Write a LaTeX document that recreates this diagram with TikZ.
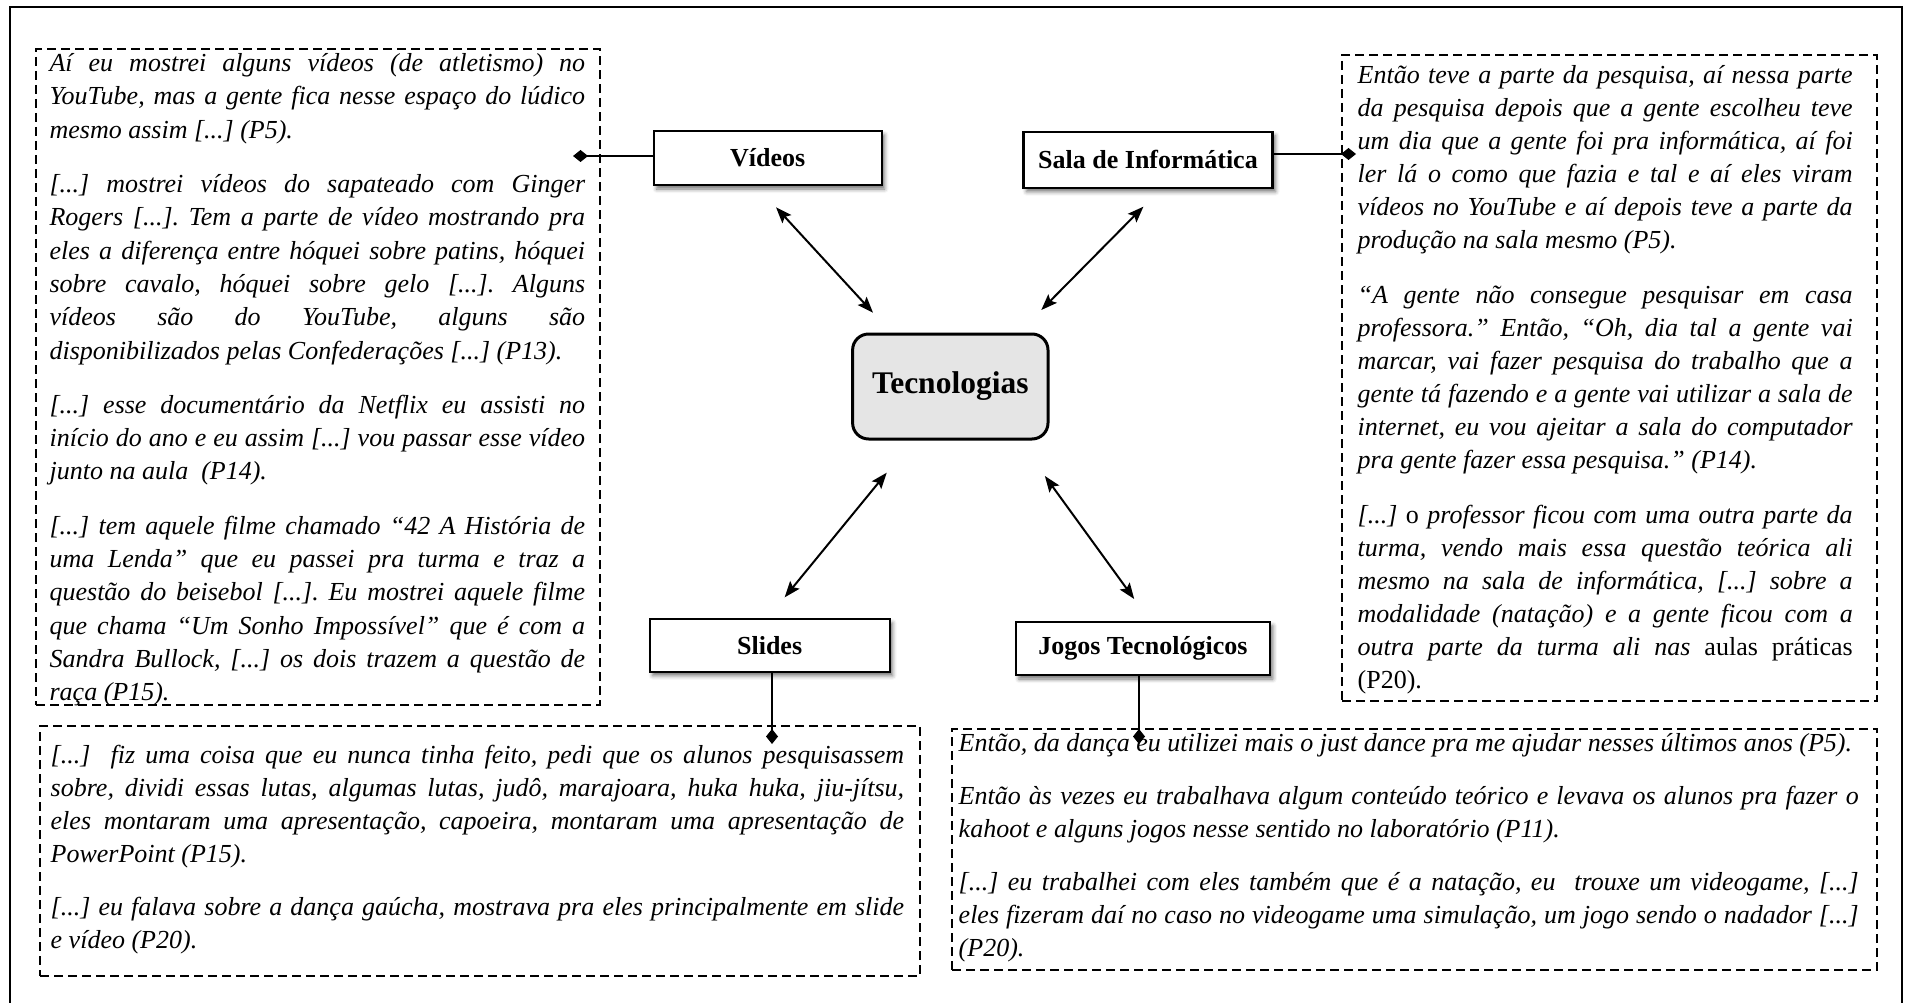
\documentclass[tikz,border=0pt]{standalone}
\usepackage{fontspec}
\setmainfont{Liberation Serif}
\usetikzlibrary{arrows.meta,shadows.blur}
\frenchspacing

% one justified line / one natural (last) line of a quotation
\newcommand\justln[1]{\hbox to\linewidth{#1}}
\newcommand\lastln[1]{\hbox{#1}}

\begin{document}
\begin{tikzpicture}[x=1pt,y=-1pt,
  outerframe/.style={line width=2pt},
  quotebox/.style={draw, dash pattern=on 9pt off 5pt, line width=2pt, inner sep=0pt, anchor=north west},
  quotetext/.style={inner sep=0pt, anchor=base west, font=\fontsize{26}{33}\selectfont\itshape},
  topicbox/.style={draw, line width=2.2pt, fill=white, inner sep=0pt,
    font=\fontsize{26}{30}\selectfont\bfseries,
    blur shadow={shadow xshift=3pt, shadow yshift=-4pt, shadow blur radius=4pt, shadow opacity=55}},
  hub/.style={draw, line width=3pt, rounded corners=16pt, fill=black!10, inner sep=0pt,
    font=\fontsize{31.5}{36}\selectfont\bfseries},
  link/.style={line width=2pt, -{Diamond[length=15pt,width=12pt]}},
  twoway/.style={line width=2pt, {Stealth[length=16pt,width=12pt,inset=3pt]}-{Stealth[length=16pt,width=12pt,inset=3pt]}},
]
\useasboundingbox (0,0) rectangle (1908,1003);

% page frame (open at the bottom)
\draw[outerframe] (10,1010) -- (10,7) -- (1902,7) -- (1902,1010);

% dashed quotation boxes
\node[quotebox, minimum width=564pt, minimum height=656pt] (bvid) at (35,48) {};
\node[quotebox, minimum width=535pt, minimum height=646pt] (bsala) at (1341,54) {};
\node[quotebox, minimum width=880pt, minimum height=250pt] (bsl) at (39,725) {};
\node[quotebox, minimum width=925pt, minimum height=241.5pt] (bjg) at (951,727.5) {};

% quotations
\node[quotetext] (tvid) at (49.4,71.7) {\parbox[t]{535.6pt}{\baselineskip=33.3pt
\justln{Aí eu mostrei alguns vídeos (de atletismo) no}
\justln{YouTube, mas a gente fica nesse espaço do lúdico}
\lastln{mesmo assim [...] (P5).}
\vspace{21pt}
\justln{[...] mostrei vídeos do sapateado com Ginger}
\justln{Rogers [...]. Tem a parte de vídeo mostrando pra}
\justln{eles a diferença entre hóquei sobre patins, hóquei}
\justln{sobre cavalo, hóquei sobre gelo [...]. Alguns}
\justln{vídeos são do YouTube, alguns são}
\lastln{disponibilizados pelas Confederações [...] (P13).}
\vspace{21pt}
\justln{[...] esse documentário da Netflix eu assisti no}
\justln{início do ano e eu assim [...] vou passar esse vídeo}
\lastln{junto na aula \ (P14).}
\vspace{21pt}
\justln{[...] tem aquele filme chamado “42 A História de}
\justln{uma Lenda” que eu passei pra turma e traz a}
\justln{questão do beisebol [...]. Eu mostrei aquele filme}
\justln{que chama “Um Sonho Impossível” que é com a}
\justln{Sandra Bullock, [...] os dois trazem a questão de}
\lastln{raça (P15).}}};

\node[quotetext] (tsala) at (1357.5,83.3) {\parbox[t]{495pt}{\baselineskip=33pt
\justln{Então teve a parte da pesquisa, aí nessa parte}
\justln{da pesquisa depois que a gente escolheu teve}
\justln{um dia que a gente foi pra informática, aí foi}
\justln{ler lá o como que fazia e tal e aí eles viram}
\justln{vídeos no YouTube e aí depois teve a parte da}
\lastln{produção na sala mesmo (P5).}
\vspace{22pt}
\justln{“A gente não consegue pesquisar em casa}
\justln{professora.” Então, “Oh, dia tal a gente vai}
\justln{marcar, vai fazer pesquisa do trabalho que a}
\justln{gente tá fazendo e a gente vai utilizar a sala de}
\justln{internet, eu vou ajeitar a sala do computador}
\lastln{pra gente fazer essa pesquisa.” (P14).}
\vspace{22pt}
\justln{[...] {\upshape o} professor ficou com uma outra parte da}
\justln{turma, vendo mais essa questão teórica ali}
\justln{mesmo na sala de informática, [...] sobre a}
\justln{modalidade (natação) e a gente ficou com a}
\justln{outra parte da turma ali nas {\upshape aulas práticas}}
\lastln{\upshape (P20).}}};

\node[quotetext] (tsl) at (50.5,763) {\parbox[t]{853.5pt}{\baselineskip=33pt
\justln{[...] \ fiz uma coisa que eu nunca tinha feito, pedi que os alunos pesquisassem}
\justln{sobre, dividi essas lutas, algumas lutas, judô, marajoara, huka huka, jiu-jítsu,}
\justln{eles montaram uma apresentação, capoeira, montaram uma apresentação de}
\lastln{PowerPoint (P15).}
\vspace{20pt}
\justln{[...] eu falava sobre a dança gaúcha, mostrava pra eles principalmente em slide}
\lastln{e vídeo (P20).}}};

\node[quotetext] (tjg) at (958.5,751.7) {\parbox[t]{900pt}{\baselineskip=33pt
\lastln{Então, da dança eu utilizei mais o just dance pra me ajudar nesses últimos anos (P5).}
\vspace{20pt}
\justln{Então às vezes eu trabalhava algum conteúdo teórico e levava os alunos pra fazer o}
\lastln{kahoot e alguns jogos nesse sentido no laboratório (P11).}
\vspace{20pt}
\justln{[...] eu trabalhei com eles também que é a natação, eu \ trouxe um videogame, [...]}
\justln{eles fizeram daí no caso no videogame uma simulação, um jogo sendo o nadador [...]}
\lastln{(P20).}}};

% topic boxes
\node[topicbox, minimum width=228pt, minimum height=54pt] (vid) at (767.6,158) {Vídeos};
\node[topicbox, minimum width=249pt, minimum height=56pt] (sala) at (1148,159.7) {Sala de Informática};
\node[topicbox, minimum width=240pt, minimum height=52.7pt] (sl) at (769.6,645.4) {Slides};
\node[topicbox, minimum width=254pt, minimum height=53.3pt] (jg) at (1142.9,648.4) {Jogos Tecnológicos};
\node[hub, minimum width=195.4pt, minimum height=105pt] (hub) at (950.3,386.5) {Tecnologias};

% ends of the links into the quotation boxes
\coordinate (dvid) at (573,156);
\coordinate (dsala) at (1356,154);
\coordinate (dsl) at (772,744);
\coordinate (djg) at (1139,744);

\draw[link] (vid.west |- dvid) -- (dvid);
\draw[link] (sala.east |- dsala) -- (dsala);
\draw[link] (dsl |- sl.south) -- (dsl);
\draw[link] (djg |- jg.south) -- (djg);

% two-way arrows around the hub
\coordinate (a1) at (776,207.3);   \coordinate (h1) at (873,312.7);
\coordinate (a2) at (1143.4,206.7);\coordinate (h2) at (1041.3,310);
\coordinate (a3) at (784.7,597.3); \coordinate (h3) at (886.7,472.7);
\coordinate (a4) at (1134.2,599);  \coordinate (h4) at (1044.9,476);

\draw[twoway] (a1) -- (h1);
\draw[twoway] (a2) -- (h2);
\draw[twoway] (a3) -- (h3);
\draw[twoway] (a4) -- (h4);
\end{tikzpicture}
\end{document}
